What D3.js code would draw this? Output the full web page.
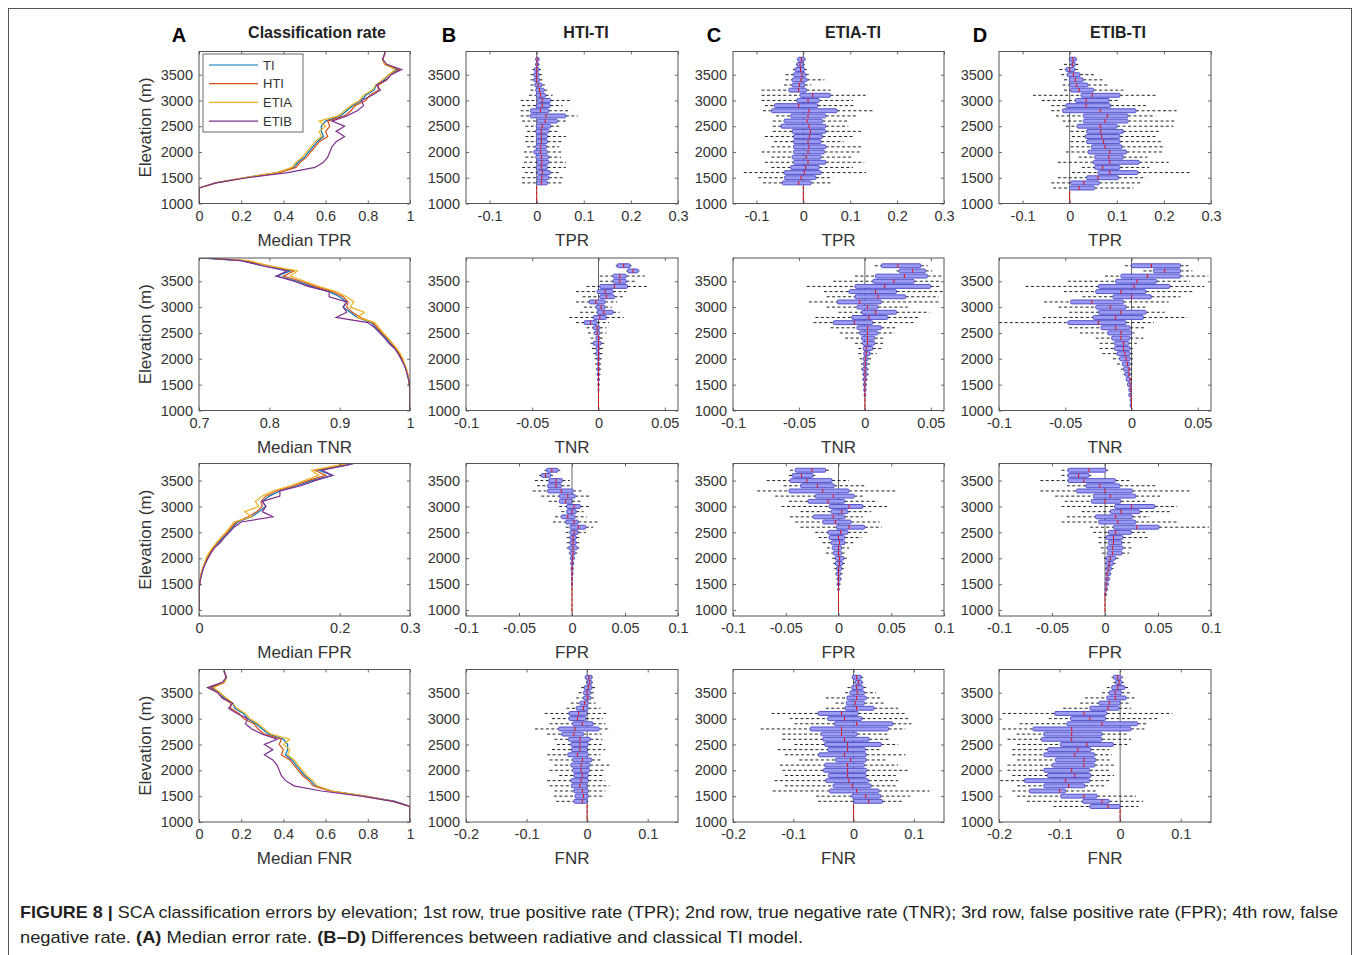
<!DOCTYPE html>
<html>
<head>
<meta charset="utf-8">
<script src="https://cdn.jsdelivr.net/npm/d3@7"></script>
<style>
  body { margin: 0; background: #fff; }
  svg text { font-family: "Liberation Sans", Arial, sans-serif; }
  .cap { font-family: "Liberation Sans Narrow", "Arial Narrow", "Liberation Sans", sans-serif; }
</style>
</head>
<body>
<svg id="fig" width="1360" height="955"></svg>
<script>
// ---- data ----
const seriesNames = ["TI", "HTI", "ETIA", "ETIB"];
const seriesColors = ["#0072BD", "#D95319", "#EDB120", "#7E2F8E"];

// elevations of the median-rate lines (column A)
const lineElev = [1000, 1100, 1200, 1300, 1400, 1500, 1600, 1700, 1800, 1900, 2000, 2100, 2200, 2300, 2400,
  2500, 2600, 2700, 2800, 2900, 3000, 3100, 3200, 3300, 3400, 3500, 3600, 3700, 3800, 3900, 4000];

const tprTI   = [0, 0, 0, 0, 0.08, 0.21, 0.37, 0.45, 0.47, 0.50, 0.52, 0.54, 0.56, 0.59, 0.58, 0.58, 0.60, 0.67, 0.70, 0.73, 0.77, 0.79, 0.83, 0.84, 0.88, 0.90, 0.94, 0.88, 0.87, 0.88, 0.88];
const tprHTI  = [0, 0, 0, 0, 0.08, 0.22, 0.38, 0.46, 0.48, 0.51, 0.53, 0.55, 0.57, 0.61, 0.60, 0.62, 0.61, 0.69, 0.72, 0.74, 0.79, 0.81, 0.85, 0.85, 0.89, 0.91, 0.95, 0.88, 0.87, 0.88, 0.88];
const tprETIA = [0, 0, 0, 0, 0.08, 0.21, 0.37, 0.44, 0.46, 0.49, 0.51, 0.53, 0.55, 0.58, 0.57, 0.60, 0.57, 0.66, 0.69, 0.72, 0.76, 0.78, 0.82, 0.84, 0.87, 0.90, 0.93, 0.88, 0.87, 0.88, 0.88];
const tprETIB = [0, 0, 0, 0, 0.08, 0.23, 0.42, 0.55, 0.59, 0.61, 0.62, 0.63, 0.65, 0.69, 0.65, 0.69, 0.63, 0.70, 0.75, 0.78, 0.77, 0.82, 0.86, 0.84, 0.89, 0.91, 0.96, 0.89, 0.87, 0.88, 0.88];

const tnrTI   = [1, 1, 1, 1, 1, 0.999, 0.998, 0.996, 0.994, 0.991, 0.988, 0.984, 0.979, 0.972, 0.966, 0.958, 0.952, 0.945, 0.925, 0.915, 0.905, 0.910, 0.900, 0.885, 0.860, 0.840, 0.810, 0.830, 0.790, 0.760, 0.640];
const tnrHTI  = [1, 1, 1, 1, 1, 0.999, 0.998, 0.997, 0.995, 0.992, 0.989, 0.985, 0.980, 0.974, 0.968, 0.960, 0.954, 0.947, 0.930, 0.918, 0.910, 0.912, 0.905, 0.890, 0.865, 0.845, 0.820, 0.835, 0.800, 0.765, 0.650];
const tnrETIA = [1, 1, 1, 1, 1, 0.999, 0.998, 0.997, 0.995, 0.992, 0.990, 0.986, 0.981, 0.975, 0.969, 0.962, 0.956, 0.950, 0.925, 0.935, 0.915, 0.920, 0.910, 0.895, 0.870, 0.850, 0.830, 0.840, 0.800, 0.770, 0.660];
const tnrETIB = [1, 1, 1, 1, 1, 0.999, 0.998, 0.996, 0.994, 0.991, 0.987, 0.983, 0.978, 0.970, 0.964, 0.957, 0.950, 0.940, 0.895, 0.910, 0.905, 0.910, 0.885, 0.885, 0.855, 0.835, 0.810, 0.825, 0.790, 0.760, 0.660];

const fprTI   = [0, 0, 0, 0, 0, 0.001, 0.002, 0.004, 0.006, 0.009, 0.012, 0.016, 0.021, 0.028, 0.034, 0.042, 0.048, 0.055, 0.075, 0.085, 0.095, 0.090, 0.100, 0.115, 0.140, 0.160, 0.190, 0.170, 0.210, 0.240, 0.350];
const fprHTI  = [0, 0, 0, 0, 0, 0.001, 0.002, 0.003, 0.005, 0.008, 0.011, 0.015, 0.020, 0.026, 0.032, 0.040, 0.046, 0.053, 0.070, 0.082, 0.090, 0.088, 0.095, 0.110, 0.135, 0.155, 0.180, 0.165, 0.200, 0.235, 0.350];
const fprETIA = [0, 0, 0, 0, 0, 0.001, 0.002, 0.003, 0.005, 0.008, 0.010, 0.014, 0.019, 0.025, 0.031, 0.038, 0.044, 0.050, 0.075, 0.065, 0.085, 0.080, 0.090, 0.105, 0.130, 0.150, 0.170, 0.160, 0.200, 0.230, 0.340];
const fprETIB = [0, 0, 0, 0, 0, 0.001, 0.002, 0.004, 0.006, 0.009, 0.013, 0.017, 0.022, 0.030, 0.036, 0.043, 0.050, 0.060, 0.105, 0.090, 0.095, 0.090, 0.115, 0.115, 0.145, 0.165, 0.190, 0.175, 0.210, 0.240, 0.340];

const fnrTI   = [1, 1, 1, 1, 0.93, 0.79, 0.63, 0.55, 0.53, 0.50, 0.48, 0.46, 0.44, 0.41, 0.42, 0.42, 0.40, 0.33, 0.30, 0.27, 0.23, 0.21, 0.17, 0.16, 0.12, 0.10, 0.06, 0.12, 0.13, 0.12, 0.12];
const fnrHTI  = [1, 1, 1, 1, 0.92, 0.78, 0.62, 0.54, 0.52, 0.49, 0.47, 0.45, 0.43, 0.39, 0.40, 0.38, 0.39, 0.31, 0.28, 0.26, 0.21, 0.19, 0.15, 0.15, 0.11, 0.09, 0.05, 0.12, 0.13, 0.12, 0.12];
const fnrETIA = [1, 1, 1, 1, 0.92, 0.79, 0.63, 0.56, 0.54, 0.51, 0.49, 0.47, 0.45, 0.42, 0.43, 0.40, 0.43, 0.34, 0.31, 0.28, 0.24, 0.22, 0.18, 0.16, 0.13, 0.10, 0.07, 0.12, 0.13, 0.12, 0.12];
const fnrETIB = [1, 1, 1, 1, 0.92, 0.77, 0.58, 0.45, 0.41, 0.39, 0.38, 0.37, 0.35, 0.31, 0.35, 0.31, 0.37, 0.30, 0.25, 0.22, 0.23, 0.18, 0.14, 0.16, 0.11, 0.09, 0.04, 0.11, 0.13, 0.12, 0.12];

// elevation bins of the box plots, top to bottom
const binElev = [3800, 3700, 3600, 3500, 3400, 3300, 3200, 3100, 3000, 2900, 2800, 2700, 2600, 2500, 2400,
  2300, 2200, 2100, 2000, 1900, 1800, 1700, 1600, 1500, 1400, 1300, 1200, 1100, 1000];

// box stats per bin: [whisker low, q1, median, q3, whisker high]
const tprHTIvsTI = [
  [-0.003, -0.002, 0.001, 0.005, 0.006], [-0.003, -0.002, 0.001, 0.004, 0.006], [-0.009, -0.005, 0, 0.005, 0.009],
  [-0.013, -0.006, 0, 0.005, 0.011], [-0.013, -0.006, 0, 0.006, 0.016], [-0.013, -0.004, 0.003, 0.011, 0.019],
  [-0.013, -0.002, 0.006, 0.016, 0.023], [-0.016, -0.001, 0.008, 0.019, 0.034], [-0.034, 0.001, 0.012, 0.030, 0.073],
  [-0.031, -0.001, 0.012, 0.029, 0.055], [-0.034, -0.013, 0.008, 0.026, 0.069], [-0.034, -0.014, 0.020, 0.062, 0.087],
  [-0.031, 0.001, 0.018, 0.044, 0.065], [-0.024, -0.001, 0.012, 0.030, 0.048], [-0.020, -0.002, 0.010, 0.026, 0.048],
  [-0.024, -0.001, 0.010, 0.023, 0.062], [-0.024, -0.001, 0.010, 0.023, 0.055], [-0.020, -0.002, 0.009, 0.021, 0.048],
  [-0.027, -0.006, 0.008, 0.023, 0.055], [-0.024, -0.002, 0.010, 0.026, 0.052], [-0.027, 0.001, 0.011, 0.026, 0.062],
  [-0.031, -0.001, 0.010, 0.023, 0.062], [-0.025, 0.001, 0.012, 0.029, 0.051], [-0.031, 0.001, 0.011, 0.026, 0.055],
  [-0.031, 0, 0.010, 0.023, 0.055], [0, 0, 0, 0, 0], [0, 0, 0, 0, 0], [0, 0, 0, 0, 0], [0, 0, 0, 0, 0]
];
const tprETIAvsTI = [
  [-0.014, -0.012, -0.004, 0.003, 0.005], [-0.016, -0.014, -0.007, 0, 0.003], [-0.022, -0.018, -0.006, 0.003, 0.007],
  [-0.038, -0.021, -0.003, 0.005, 0.014], [-0.038, -0.024, -0.005, 0.008, 0.045], [-0.041, -0.024, -0.008, 0.003, 0.017],
  [-0.089, -0.031, -0.010, 0.007, 0.058], [-0.089, -0.007, 0.020, 0.058, 0.133], [-0.089, -0.014, 0.010, 0.034, 0.106],
  [-0.082, -0.062, -0.010, 0.031, 0.110], [-0.086, -0.068, 0.012, 0.072, 0.151], [-0.058, -0.027, 0.010, 0.048, 0.116],
  [-0.065, -0.041, 0.008, 0.041, 0.096], [-0.065, -0.048, 0.012, 0.048, 0.096], [-0.065, -0.024, 0.015, 0.048, 0.123],
  [-0.082, -0.021, 0.013, 0.041, 0.106], [-0.062, -0.021, 0.010, 0.038, 0.086], [-0.068, -0.021, 0.012, 0.048, 0.123],
  [-0.089, -0.021, 0.010, 0.045, 0.120], [-0.068, -0.024, 0.006, 0.038, 0.103], [-0.082, -0.021, 0.010, 0.048, 0.130],
  [-0.068, -0.027, 0.005, 0.034, 0.106], [-0.127, -0.041, 0.002, 0.038, 0.134], [-0.096, -0.040, -0.005, 0.027, 0.062],
  [-0.086, -0.045, -0.010, 0.017, 0.062], [0, 0, 0, 0, 0], [0, 0, 0, 0, 0], [0, 0, 0, 0, 0], [0, 0, 0, 0, 0]
];
const tprETIBvsTI = [
  [-0.002, 0, 0.007, 0.014, 0.016], [-0.012, 0.003, 0.006, 0.012, 0.019], [-0.022, -0.008, 0, 0.011, 0.019],
  [-0.018, -0.005, 0.008, 0.022, 0.053], [-0.012, -0.001, 0.012, 0.029, 0.073], [-0.015, 0, 0.015, 0.039, 0.084],
  [-0.012, 0.002, 0.020, 0.051, 0.114], [-0.078, 0.024, 0.048, 0.107, 0.186], [-0.059, 0.012, 0.035, 0.084, 0.107],
  [-0.039, -0.008, 0.035, 0.087, 0.162], [-0.039, -0.015, 0.065, 0.141, 0.227], [-0.029, 0.029, 0.080, 0.124, 0.182],
  [-0.015, 0.029, 0.075, 0.124, 0.227], [-0.008, 0.016, 0.065, 0.101, 0.220], [0.002, 0.036, 0.066, 0.114, 0.193],
  [0.005, 0.033, 0.068, 0.107, 0.182], [0.002, 0.036, 0.072, 0.107, 0.196], [0.002, 0.046, 0.075, 0.111, 0.203],
  [-0.008, 0.039, 0.085, 0.121, 0.196], [0.019, 0.053, 0.083, 0.114, 0.165], [-0.025, 0.050, 0.085, 0.148, 0.210],
  [0.026, 0.053, 0.070, 0.107, 0.169], [0.005, 0.060, 0.085, 0.145, 0.257], [-0.025, 0.036, 0.060, 0.104, 0.162],
  [-0.039, 0.002, 0.030, 0.063, 0.152], [-0.035, 0, 0.020, 0.053, 0.135], [0, 0, 0, 0, 0], [0, 0, 0, 0, 0], [0, 0, 0, 0, 0]
];

const tnrHTIvsTI = [
  [0.013, 0.014, 0.019, 0.024, 0.025], [0.021, 0.022, 0.026, 0.030, 0.031], [0.001, 0.011, 0.016, 0.021, 0.035],
  [0.001, 0.011, 0.016, 0.021, 0.029], [-0.009, 0.001, 0.012, 0.022, 0.037], [-0.017, -0.001, 0.005, 0.011, 0.021],
  [-0.012, 0.001, 0.006, 0.012, 0.019], [-0.017, -0.007, -0.002, 0.005, 0.014], [-0.011, -0.002, 0.002, 0.005, 0.010],
  [-0.014, -0.001, 0.004, 0.011, 0.016], [-0.022, -0.004, 0.001, 0.006, 0.019], [-0.017, -0.011, -0.006, -0.001, 0.008],
  [-0.009, -0.004, -0.001, 0.001, 0.006], [-0.008, -0.003, -0.001, 0.001, 0.006], [-0.006, -0.002, 0, 0.001, 0.004],
  [-0.006, -0.004, 0, 0.002, 0.005], [-0.005, -0.002, 0, 0.001, 0.004], [-0.004, -0.002, 0, 0.001, 0.003],
  [-0.003, -0.001, 0, 0.001, 0.0025], [-0.0025, -0.001, 0, 0.0008, 0.002], [-0.002, -0.001, 0, 0.0008, 0.002],
  [-0.0015, -0.0008, 0, 0.0006, 0.0015], [-0.001, -0.0005, 0, 0.0005, 0.001], [-0.0008, -0.0004, 0, 0.0004, 0.0008],
  [-0.0005, -0.0002, 0, 0.0002, 0.0005], [0, 0, 0, 0, 0], [0, 0, 0, 0, 0], [0, 0, 0, 0, 0], [0, 0, 0, 0, 0]
];
const tnrETIAvsTI = [
  [0.0075, 0.0125, 0.025, 0.0425, 0.0475], [0.024, 0.026, 0.036, 0.046, 0.051], [-0.0075, 0.008, 0.030, 0.0475, 0.059],
  [-0.024, 0.006, 0.022, 0.0375, 0.056], [-0.044, -0.0075, 0.015, 0.050, 0.0575], [-0.031, -0.012, 0.008, 0.024, 0.059],
  [-0.029, -0.0075, 0.010, 0.031, 0.056], [-0.0425, -0.021, -0.004, 0.0125, 0.056], [-0.029, -0.006, 0.002, 0.010, 0.0325],
  [-0.020, -0.0025, 0.008, 0.024, 0.049], [-0.0375, -0.010, 0.003, 0.0175, 0.041], [-0.039, -0.024, -0.008, 0.006, 0.039],
  [-0.026, -0.006, 0.002, 0.0125, 0.024], [-0.019, -0.004, 0.002, 0.010, 0.0225], [-0.015, -0.0025, 0.002, 0.0075, 0.014],
  [-0.0075, -0.0018, 0.002, 0.0075, 0.014], [-0.005, -0.0012, 0.001, 0.006, 0.0125], [-0.005, -0.0008, 0.001, 0.004, 0.009],
  [-0.004, -0.0012, 0.0005, 0.0025, 0.005], [-0.003, -0.0012, 0.0003, 0.0018, 0.004], [-0.003, -0.0018, 0.0002, 0.0018, 0.003],
  [-0.002, -0.0012, 0.0002, 0.0018, 0.003], [-0.002, -0.0012, 0.0002, 0.0012, 0.002], [-0.0015, -0.001, 0, 0.001, 0.0015],
  [-0.001, -0.0008, 0, 0.0008, 0.001], [-0.0005, -0.0005, 0, 0.0005, 0.0005], [0, 0, 0, 0, 0], [0, 0, 0, 0, 0], [0, 0, 0, 0, 0]
];
const tnrETIBvsTI = [
  [-0.005, 0, 0.015, 0.037, 0.043], [0.009, 0.0165, 0.025, 0.037, 0.046], [-0.020, -0.008, 0.012, 0.037, 0.058],
  [-0.048, -0.012, 0.004, 0.019, 0.044], [-0.080, -0.025, 0.002, 0.029, 0.055], [-0.051, -0.027, -0.008, 0.011, 0.047],
  [-0.037, -0.014, 0, 0.015, 0.037], [-0.066, -0.046, -0.030, -0.006, 0.028], [-0.055, -0.027, -0.016, -0.004, 0.011],
  [-0.047, -0.025, -0.008, 0.011, 0.025], [-0.067, -0.029, -0.012, 0.009, 0.042], [-0.100, -0.048, -0.025, -0.004, 0.017],
  [-0.047, -0.023, -0.012, -0.001, 0.011], [-0.039, -0.018, -0.008, 0, 0.004], [-0.027, -0.015, -0.008, -0.001, 0.009],
  [-0.024, -0.013, -0.006, -0.002, 0.004], [-0.024, -0.013, -0.006, -0.001, 0.001], [-0.022, -0.011, -0.005, -0.001, 0.001],
  [-0.014, -0.009, -0.004, -0.001, 0.001], [-0.011, -0.007, -0.003, -0.001, 0.001], [-0.008, -0.006, -0.002, -0.001, 0.0005],
  [-0.006, -0.005, -0.002, -0.001, 0.0005], [-0.004, -0.004, -0.001, -0.001, 0.0003], [-0.003, -0.003, -0.001, 0, 0.0003],
  [-0.002, -0.002, -0.0005, 0, 0.0003], [-0.002, -0.002, -0.0005, 0, 0], [-0.001, -0.001, 0, 0, 0], [-0.001, -0.001, 0, 0, 0], [0, 0, 0, 0, 0]
];

const fprHTIvsTI = [
  null, [-0.026, -0.024, -0.019, -0.013, -0.011], [-0.031, -0.029, -0.025, -0.020, -0.018],
  [-0.035, -0.022, -0.015, -0.009, -0.002], [-0.033, -0.023, -0.015, -0.010, -0.002], [-0.037, -0.023, -0.010, 0.001, 0.011],
  [-0.029, -0.012, -0.004, 0.003, 0.018], [-0.022, -0.012, -0.006, 0, 0.008], [-0.012, -0.005, 0.002, 0.008, 0.018],
  [-0.010, -0.005, 0, 0.004, 0.011], [-0.016, -0.010, -0.004, 0.003, 0.014], [-0.018, -0.006, 0.002, 0.006, 0.024],
  [-0.006, -0.002, 0.006, 0.013, 0.020], [-0.006, -0.002, 0.002, 0.006, 0.013], [-0.005, -0.002, 0.001, 0.004, 0.008],
  [-0.005, -0.002, 0.001, 0.004, 0.007], [-0.005, -0.003, 0.001, 0.005, 0.007], [-0.003, -0.002, 0.001, 0.003, 0.005],
  [-0.002, -0.0014, 0.0005, 0.002, 0.003], [-0.0015, -0.001, 0.0003, 0.0015, 0.002], [-0.001, -0.0008, 0.0002, 0.001, 0.0015],
  [-0.001, -0.0005, 0, 0.0008, 0.001], [-0.0005, -0.0003, 0, 0.0005, 0.0008], [-0.0003, -0.0002, 0, 0.0003, 0.0005],
  [0, 0, 0, 0, 0], [0, 0, 0, 0, 0], [0, 0, 0, 0, 0], [0, 0, 0, 0, 0], [0, 0, 0, 0, 0]
];
const fprETIAvsTI = [
  null, [-0.046, -0.041, -0.025, -0.012, -0.008], [-0.047, -0.044, -0.035, -0.024, -0.022],
  [-0.068, -0.046, -0.030, -0.006, 0.010], [-0.052, -0.036, -0.020, -0.004, 0.026], [-0.077, -0.047, -0.015, 0.010, 0.054],
  [-0.060, -0.022, -0.005, 0.015, 0.024], [-0.047, -0.029, -0.010, 0.006, 0.037], [-0.054, -0.009, 0.010, 0.023, 0.046],
  [-0.036, -0.007, 0.003, 0.009, 0.031], [-0.046, -0.024, -0.005, 0.006, 0.023], [-0.041, -0.015, -0.003, 0.012, 0.039],
  [-0.036, -0.002, 0.010, 0.025, 0.041], [-0.022, -0.010, 0.002, 0.009, 0.028], [-0.019, -0.009, 0, 0.006, 0.022],
  [-0.015, -0.007, 0.001, 0.006, 0.014], [-0.011, -0.006, 0, 0.003, 0.010], [-0.012, -0.005, 0, 0.003, 0.006],
  [-0.006, -0.003, 0.001, 0.005, 0.008], [-0.005, -0.003, 0.001, 0.004, 0.006], [-0.004, -0.002, 0, 0.003, 0.005],
  [-0.003, -0.002, 0, 0.002, 0.004], [-0.002, -0.001, 0, 0.002, 0.003], [-0.002, -0.001, 0, 0.001, 0.002],
  [-0.001, -0.0005, 0, 0.0005, 0.001], [0, 0, 0, 0, 0], [0, 0, 0, 0, 0], [0, 0, 0, 0, 0], [0, 0, 0, 0, 0]
];
const fprETIBvsTI = [
  null, [-0.041, -0.035, -0.015, 0.001, 0.003], [-0.041, -0.035, -0.025, -0.015, -0.013],
  [-0.061, -0.035, -0.020, 0.010, 0.024], [-0.036, -0.018, -0.005, 0.014, 0.049], [-0.061, -0.027, 0, 0.026, 0.082],
  [-0.047, -0.011, 0.005, 0.029, 0.052], [-0.038, -0.013, 0, 0.015, 0.038], [-0.041, 0.009, 0.025, 0.047, 0.068],
  [-0.022, 0.005, 0.015, 0.033, 0.061], [-0.036, -0.009, 0.010, 0.026, 0.042], [-0.041, -0.006, 0.012, 0.029, 0.070],
  [-0.014, 0.008, 0.030, 0.051, 0.098], [-0.011, 0.003, 0.010, 0.025, 0.040], [-0.006, 0.001, 0.008, 0.017, 0.040],
  [-0.006, 0.003, 0.008, 0.016, 0.026], [-0.004, 0.002, 0.007, 0.017, 0.026], [-0.003, 0.002, 0.007, 0.016, 0.023],
  [-0.001, 0.001, 0.005, 0.010, 0.014], [0, 0.001, 0.004, 0.008, 0.010], [0, 0.001, 0.003, 0.006, 0.008],
  [0, 0.001, 0.002, 0.005, 0.006], [0, 0.0005, 0.002, 0.004, 0.005], [0, 0, 0.001, 0.003, 0.004],
  [0, 0, 0.001, 0.002, 0.003], [0, 0, 0, 0.001, 0.002], [0, 0, 0, 0, 0], [0, 0, 0, 0, 0], [0, 0, 0, 0, 0]
];

const fnrHTIvsTI = [
  [-0.004, -0.003, 0.003, 0.008, 0.009], [-0.002, 0, 0.004, 0.008, 0.009], [-0.010, -0.005, 0.002, 0.008, 0.013],
  [-0.014, -0.006, 0, 0.006, 0.014], [-0.018, -0.006, 0.001, 0.006, 0.013], [-0.027, -0.012, -0.004, 0.002, 0.014],
  [-0.034, -0.018, -0.006, 0.002, 0.022], [-0.070, -0.030, -0.014, 0, 0.034], [-0.058, -0.030, -0.016, -0.002, 0.026],
  [-0.062, -0.024, -0.008, 0.010, 0.030], [-0.086, -0.047, -0.020, 0.020, 0.038], [-0.066, -0.042, -0.022, -0.006, 0.024],
  [-0.054, -0.031, -0.012, 0.005, 0.025], [-0.050, -0.027, -0.012, 0.002, 0.024], [-0.058, -0.026, -0.012, 0, 0.030],
  [-0.066, -0.032, -0.016, 0.002, 0.022], [-0.062, -0.024, -0.008, 0.008, 0.022], [-0.054, -0.027, -0.010, 0.005, 0.038],
  [-0.062, -0.024, -0.010, 0.004, 0.029], [-0.046, -0.022, -0.008, 0.002, 0.029], [-0.066, -0.027, -0.010, 0.002, 0.030],
  [-0.062, -0.026, -0.012, 0, 0.037], [-0.054, -0.022, -0.008, 0.002, 0.030], [-0.055, -0.020, -0.006, 0.002, 0.029],
  [-0.051, -0.022, -0.008, 0, 0.002], [0, 0, 0, 0, 0], [0, 0, 0, 0, 0], [0, 0, 0, 0, 0], [0, 0, 0, 0, 0]
];
const fnrETIAvsTI = [
  [-0.003, -0.002, 0.005, 0.013, 0.016], [0, 0.002, 0.008, 0.014, 0.016], [-0.010, -0.003, 0.005, 0.016, 0.022],
  [-0.014, -0.006, 0.006, 0.018, 0.037], [-0.046, -0.011, 0.005, 0.021, 0.045], [-0.030, -0.012, 0.003, 0.018, 0.054],
  [-0.046, -0.014, 0.005, 0.034, 0.074], [-0.136, -0.059, -0.020, 0.008, 0.086], [-0.106, -0.043, -0.015, 0.014, 0.094],
  [-0.098, -0.032, 0.005, 0.065, 0.096], [-0.154, -0.072, -0.020, 0.058, 0.086], [-0.118, -0.054, -0.020, 0.006, 0.058],
  [-0.118, -0.051, -0.015, 0.026, 0.058], [-0.098, -0.048, -0.010, 0.046, 0.074], [-0.126, -0.043, -0.010, 0.020, 0.046],
  [-0.114, -0.058, -0.015, 0.021, 0.086], [-0.090, -0.030, -0.005, 0.021, 0.054], [-0.122, -0.048, -0.010, 0.018, 0.074],
  [-0.118, -0.050, -0.010, 0.022, 0.093], [-0.114, -0.042, -0.010, 0.021, 0.070], [-0.131, -0.046, -0.008, 0.025, 0.074],
  [-0.114, -0.034, -0.002, 0.029, 0.070], [-0.134, -0.040, 0.005, 0.042, 0.126], [-0.062, -0.003, 0.020, 0.045, 0.094],
  [-0.059, 0, 0.025, 0.048, 0.082], [0, 0, 0, 0, 0], [0, 0, 0, 0, 0], [0, 0, 0, 0, 0], [0, 0, 0, 0, 0]
];
const fnrETIBvsTI = [
  [-0.014, -0.011, -0.004, 0.002, 0.005], [-0.011, -0.008, -0.002, 0.003, 0.006], [-0.022, -0.014, -0.004, 0.008, 0.014],
  [-0.030, -0.018, -0.008, 0.002, 0.018], [-0.058, -0.022, -0.008, 0.010, 0.024], [-0.066, -0.035, -0.018, 0, 0.018],
  [-0.094, -0.050, -0.020, -0.002, 0.018], [-0.194, -0.108, -0.060, -0.022, 0.086], [-0.118, -0.082, -0.050, -0.024, 0.062],
  [-0.166, -0.088, -0.030, 0.029, 0.046], [-0.194, -0.144, -0.080, 0.018, 0.040], [-0.171, -0.126, -0.080, -0.030, 0.014],
  [-0.186, -0.130, -0.080, -0.030, 0.018], [-0.170, -0.099, -0.055, -0.011, 0.014], [-0.178, -0.120, -0.070, -0.048, -0.018],
  [-0.178, -0.126, -0.075, -0.042, -0.014], [-0.170, -0.107, -0.060, -0.040, -0.014], [-0.186, -0.112, -0.060, -0.042, -0.010],
  [-0.186, -0.126, -0.080, -0.050, -0.018], [-0.178, -0.120, -0.075, -0.048, -0.010], [-0.198, -0.158, -0.090, -0.050, -0.018],
  [-0.170, -0.126, -0.085, -0.058, -0.026], [-0.178, -0.150, -0.100, -0.090, -0.038], [-0.170, -0.098, -0.060, -0.038, 0.026],
  [-0.154, -0.062, -0.030, -0.018, 0.038], [-0.110, -0.050, -0.020, 0, 0.030], [0, 0, 0, 0, 0], [0, 0, 0, 0, 0], [0, 0, 0, 0, 0]
];

const colTitles = ["Classification rate", "HTI-TI", "ETIA-TI", "ETIB-TI"];
const colLetters = ["A", "B", "C", "D"];
const rateNames = ["TPR", "TNR", "FPR", "FNR"];
const elevTicks = [1000, 1500, 2000, 2500, 3000, 3500];
const rateDomains = [[0, 1], [0.7, 1], [0, 0.3], [0, 1]];
const rateTicks = [[0, 0.2, 0.4, 0.6, 0.8, 1], [0.7, 0.8, 0.9, 1], [0, 0.2, 0.3], [0, 0.2, 0.4, 0.6, 0.8, 1]];
const diffDomains = [[-0.15, 0.3], [-0.1, 0.06], [-0.1, 0.1], [-0.2, 0.15]];
const diffTicks = [[-0.1, 0, 0.1, 0.2, 0.3], [-0.1, -0.05, 0, 0.05], [-0.1, -0.05, 0, 0.05, 0.1], [-0.2, -0.1, 0, 0.1]];

const lineData = [
  [tprTI, tprHTI, tprETIA, tprETIB],
  [tnrTI, tnrHTI, tnrETIA, tnrETIB],
  [fprTI, fprHTI, fprETIA, fprETIB],
  [fnrTI, fnrHTI, fnrETIA, fnrETIB]
];
const boxData = [
  [tprHTIvsTI, tprETIAvsTI, tprETIBvsTI],
  [tnrHTIvsTI, tnrETIAvsTI, tnrETIBvsTI],
  [fprHTIvsTI, fprETIAvsTI, fprETIBvsTI],
  [fnrHTIvsTI, fnrETIAvsTI, fnrETIBvsTI]
];

// ---- layout ----
const colX = [[199, 410], [466, 678], [733, 944], [999, 1211]];
const rowY = [[51.5, 203.5], [258, 410.5], [463.5, 616], [669.5, 822]];
const rowElevDomain = [[1000, 3950], [1000, 3950], [885, 3830], [1000, 3950]];

const svg = d3.select("#fig");
const ink = "#333";
const fmt = d => String(+d.toFixed(3));

svg.append("rect")
  .attr("x", 8.5).attr("y", 8.5).attr("width", 1343).attr("height", 980)
  .attr("fill", "none").attr("stroke", "#555").attr("stroke-width", 1);

function styleAxis(g) {
  g.select(".domain").remove();
  g.selectAll(".tick line").attr("stroke", "#444").attr("stroke-width", 0.8);
  g.selectAll(".tick text").attr("fill", ink).attr("font-size", 14.5)
    .attr("font-family", '"Liberation Sans", Arial, sans-serif');
}

function makePanel(row, col, xDomain, xTicks) {
  const [x0, x1] = colX[col], [y0, y1] = rowY[row];
  const x = d3.scaleLinear().domain(xDomain).range([x0, x1]);
  const y = d3.scaleLinear().domain(rowElevDomain[row]).range([y1, y0]);
  const g = svg.append("g");
  const clipId = "clip" + row + "_" + col;
  svg.append("clipPath").attr("id", clipId)
    .append("rect").attr("x", x0).attr("y", y0).attr("width", x1 - x0).attr("height", y1 - y0);
  const plot = g.append("g").attr("clip-path", "url(#" + clipId + ")");
  return { g, plot, x, y, x0, x1, y0, y1, xTicks };
}

function drawFrame(p) {
  p.g.append("g").attr("transform", "translate(0," + p.y1 + ")")
    .call(d3.axisBottom(p.x).tickValues(p.xTicks).tickFormat(fmt).tickSizeInner(-3).tickSizeOuter(0).tickPadding(7))
    .call(styleAxis);
  p.g.append("g").attr("transform", "translate(0," + p.y0 + ")")
    .call(d3.axisTop(p.x).tickValues(p.xTicks).tickFormat("").tickSizeInner(-3).tickSizeOuter(0))
    .call(styleAxis);
  p.g.append("g").attr("transform", "translate(" + p.x0 + ",0)")
    .call(d3.axisLeft(p.y).tickValues(elevTicks).tickFormat(d3.format("d")).tickSizeInner(-3).tickSizeOuter(0).tickPadding(6))
    .call(styleAxis);
  p.g.append("g").attr("transform", "translate(" + p.x1 + ",0)")
    .call(d3.axisRight(p.y).tickValues(elevTicks).tickFormat("").tickSizeInner(-3).tickSizeOuter(0))
    .call(styleAxis);
  p.g.append("rect")
    .attr("x", p.x0).attr("y", p.y0).attr("width", p.x1 - p.x0).attr("height", p.y1 - p.y0)
    .attr("fill", "none").attr("stroke", "#555").attr("stroke-width", 1);
}

function xLabel(p, text) {
  p.g.append("text")
    .attr("x", (p.x0 + p.x1) / 2).attr("y", p.y1 + 42)
    .attr("text-anchor", "middle").attr("font-size", 17).attr("fill", ink)
    .text(text);
}

// column A: median rates
rateNames.forEach((rate, row) => {
  const p = makePanel(row, 0, rateDomains[row], rateTicks[row]);
  const line = d3.line().x(d => p.x(d[1])).y(d => p.y(d[0]));
  lineData[row].forEach((vals, k) => {
    p.plot.append("path")
      .datum(lineElev.map((e, i) => [e, vals[i]]))
      .attr("d", line)
      .attr("fill", "none")
      .attr("stroke", seriesColors[k])
      .attr("stroke-width", 1.2);
  });
  drawFrame(p);
  xLabel(p, "Median " + rate);
  p.g.append("text")
    .attr("transform", "translate(145," + ((p.y0 + p.y1) / 2) + ") rotate(-90)")
    .attr("text-anchor", "middle").attr("dy", "0.35em")
    .attr("font-size", 17).attr("fill", ink)
    .text("Elevation (m)");

  if (row === 0) {
    const lg = p.g.append("g");
    lg.append("rect")
      .attr("x", 203).attr("y", 54).attr("width", 100).attr("height", 78)
      .attr("fill", "#fff").attr("stroke", "#444").attr("stroke-width", 0.8);
    seriesNames.forEach((name, k) => {
      const ly = 65 + k * 18.7;
      lg.append("line").attr("x1", 209).attr("x2", 258).attr("y1", ly).attr("y2", ly)
        .attr("stroke", seriesColors[k]).attr("stroke-width", 1.2);
      lg.append("text").attr("x", 263).attr("y", ly).attr("dy", "0.35em")
        .attr("font-size", 13).attr("fill", ink).text(name);
    });
  }
});

// columns B-D: box plots of differences
const y0scale = d3.scaleLinear().domain(rowElevDomain[0]).range([rowY[0][1], rowY[0][0]]);
const bandStep = Math.abs(y0scale(1100) - y0scale(1000));
const boxH = bandStep * 0.76;

rateNames.forEach((rate, row) => {
  boxData[row].forEach((stats, c) => {
    const col = c + 1;
    const p = makePanel(row, col, diffDomains[row], diffTicks[row]);
    p.plot.append("line")
      .attr("x1", p.x(0)).attr("x2", p.x(0)).attr("y1", p.y0).attr("y2", p.y1)
      .attr("stroke", "#666").attr("stroke-width", 1);
    const bins = binElev.map((e, i) => ({ e, s: stats[i] })).filter(d => d.s);
    const bg = p.plot.selectAll("g.bin").data(bins).join("g").attr("class", "bin");
    bg.filter(d => d.s[0] < d.s[1]).append("line")
      .attr("x1", d => p.x(d.s[0])).attr("x2", d => p.x(d.s[1]))
      .attr("y1", d => p.y(d.e)).attr("y2", d => p.y(d.e))
      .attr("stroke", "#222").attr("stroke-width", 1).attr("stroke-dasharray", "3,2.4");
    bg.filter(d => d.s[4] > d.s[3]).append("line")
      .attr("x1", d => p.x(d.s[3])).attr("x2", d => p.x(d.s[4]))
      .attr("y1", d => p.y(d.e)).attr("y2", d => p.y(d.e))
      .attr("stroke", "#222").attr("stroke-width", 1).attr("stroke-dasharray", "3,2.4");
    bg.filter(d => d.s[3] > d.s[1]).append("rect")
      .attr("x", d => p.x(d.s[1])).attr("width", d => Math.max(0.6, p.x(d.s[3]) - p.x(d.s[1])))
      .attr("y", d => p.y(d.e) - boxH / 2).attr("height", boxH)
      .attr("rx", 1.3)
      .attr("fill", "#9c9cf2").attr("stroke", "#4646c8").attr("stroke-width", 0.9);
    bg.append("line")
      .attr("x1", d => p.x(d.s[2])).attr("x2", d => p.x(d.s[2]))
      .attr("y1", d => p.y(d.e) - boxH / 2).attr("y2", d => p.y(d.e) + boxH / 2)
      .attr("stroke", "#e01010").attr("stroke-width", 1);
    drawFrame(p);
    xLabel(p, rate);
  });
});

// titles and panel letters
const titleX = [317, 586, 853, 1118];
const letterX = [179, 449, 714, 980];
colTitles.forEach((t, i) => {
  svg.append("text").attr("x", titleX[i]).attr("y", 38)
    .attr("text-anchor", "middle").attr("font-size", 16).attr("font-weight", "bold").attr("fill", "#222")
    .text(t);
  svg.append("text").attr("x", letterX[i]).attr("y", 42)
    .attr("text-anchor", "middle").attr("font-size", 20).attr("font-weight", "bold").attr("fill", "#000")
    .text(colLetters[i]);
});

// caption
const cap1 = svg.append("text").attr("class", "cap").attr("x", 20).attr("y", 918)
  .attr("font-size", 17).attr("fill", "#231f20")
  .attr("textLength", 1318).attr("lengthAdjust", "spacingAndGlyphs");
cap1.append("tspan").attr("font-weight", "bold").text("FIGURE 8 | ");
cap1.append("tspan").text("SCA classification errors by elevation; 1st row, true positive rate (TPR); 2nd row, true negative rate (TNR); 3rd row, false positive rate (FPR); 4th row, false");

const cap2 = svg.append("text").attr("class", "cap").attr("x", 20).attr("y", 943)
  .attr("font-size", 17).attr("fill", "#231f20")
  .attr("textLength", 783).attr("lengthAdjust", "spacingAndGlyphs");
cap2.append("tspan").text("negative rate. ");
cap2.append("tspan").attr("font-weight", "bold").text("(A)");
cap2.append("tspan").text(" Median error rate. ");
cap2.append("tspan").attr("font-weight", "bold").text("(B\u2013D)");
cap2.append("tspan").text(" Differences between radiative and classical TI model.");
</script>
</body>
</html>
